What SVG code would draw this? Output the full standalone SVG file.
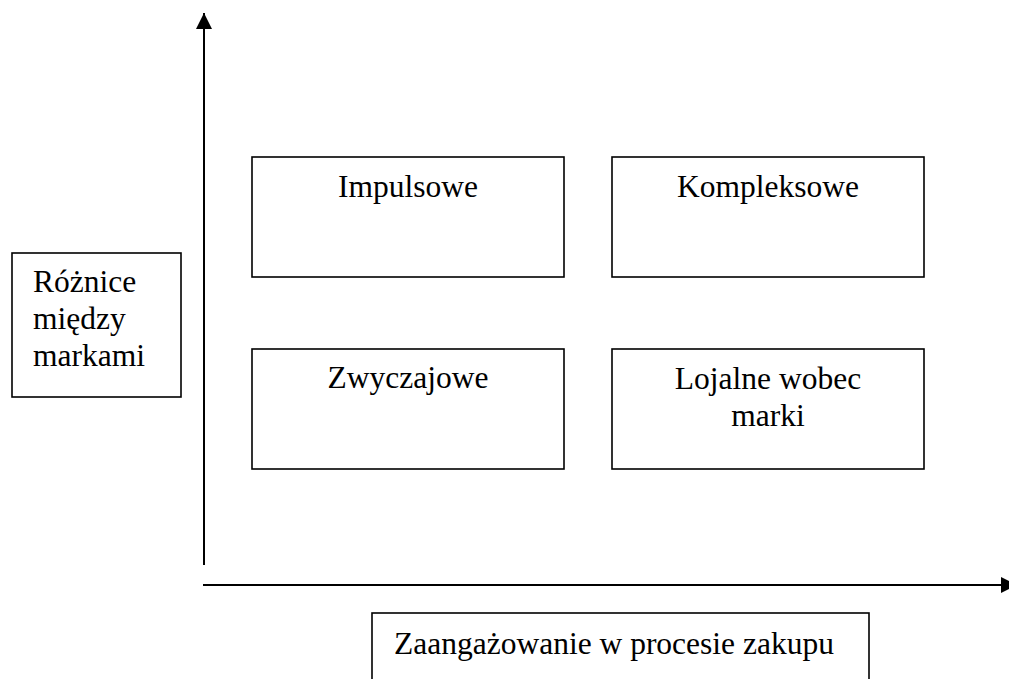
<svg xmlns="http://www.w3.org/2000/svg" width="1009" height="679" viewBox="0 0 1009 679">
<style>
.box{fill:#fff;stroke:#000;stroke-width:1.6}
.t{font-family:"Liberation Serif","Times New Roman",serif;font-size:31.5px;fill:#000}
.c{text-anchor:middle}
.ax{stroke:#000;stroke-width:2;fill:none}
</style>
<defs>
<marker id="ah" viewBox="0 0 10 10" refX="10" refY="5" markerWidth="8" markerHeight="8" markerUnits="strokeWidth" orient="auto">
<path d="M0,0 L10,5 L0,10 Z" fill="#000"/>
</marker>
</defs>
<g id="connectors">
<line class="ax" x1="204" y1="565" x2="204" y2="13" marker-end="url(#ah)"/>
<line class="ax" x1="203" y1="585" x2="1017" y2="585" marker-end="url(#ah)"/>
</g>
<g id="impulsowe">
<rect class="box" x="252" y="157" width="312" height="120"/>
<text class="t c" x="408" y="197">Impulsowe</text>
</g>
<g id="kompleksowe">
<rect class="box" x="612" y="157" width="312" height="120"/>
<text class="t c" x="768" y="197">Kompleksowe</text>
</g>
<g id="zwyczajowe">
<rect class="box" x="252" y="349" width="312" height="120"/>
<text class="t c" x="408" y="388">Zwyczajowe</text>
</g>
<g id="lojalne">
<rect class="box" x="612" y="349" width="312" height="120"/>
<text class="t c" x="768" y="389">Lojalne wobec</text>
<text class="t c" x="768" y="426">marki</text>
</g>
<g id="roznice">
<rect class="box" x="12" y="253" width="169" height="144"/>
<text class="t" x="33" y="292">Różnice</text>
<text class="t" x="33" y="329">między</text>
<text class="t" x="33" y="366">markami</text>
</g>
<g id="zaangazowanie">
<rect class="box" x="372" y="613" width="497" height="80"/>
<text class="t" x="394" y="654">Zaangażowanie w procesie zakupu</text>
</g>
</svg>
